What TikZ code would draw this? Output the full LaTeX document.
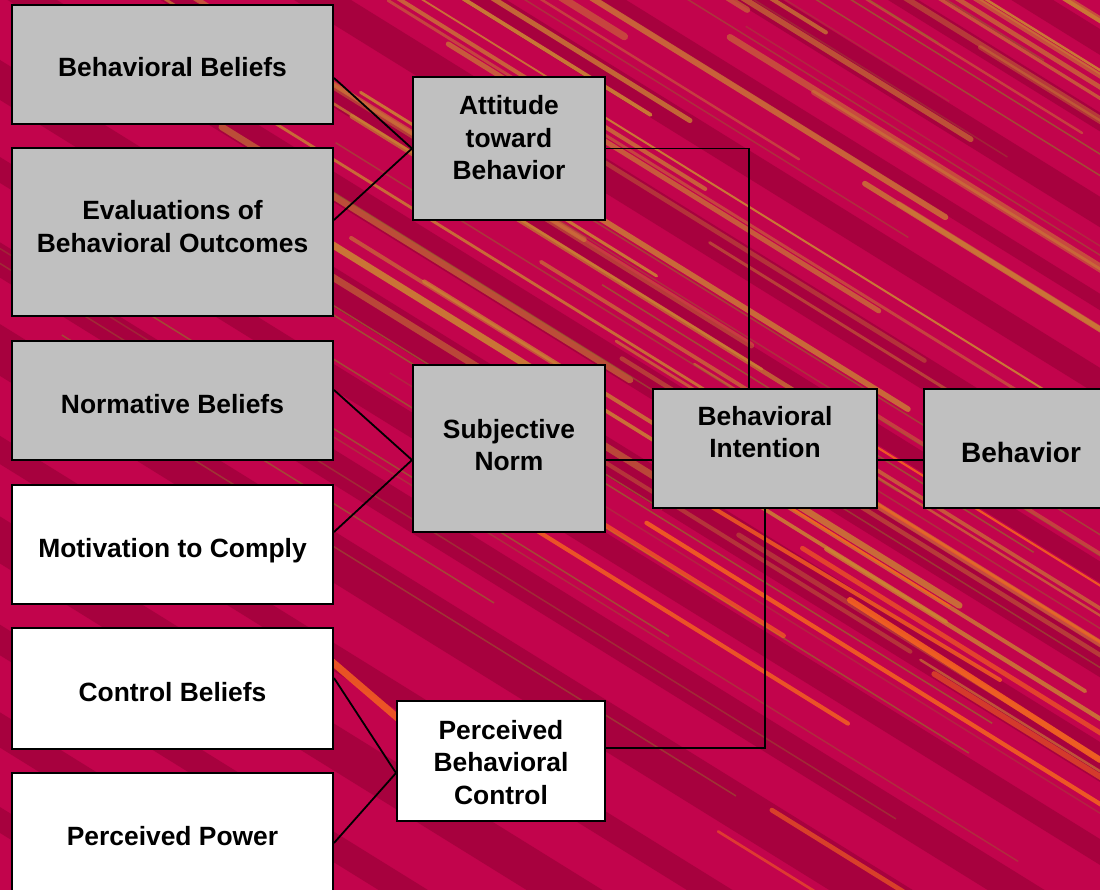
\documentclass[tikz,border=0pt]{standalone}
\usepackage{fontspec}
\setmainfont{Liberation Sans}
\definecolor{bgred}{RGB}{194,4,76}
\definecolor{darkband}{RGB}{158,0,58}
\definecolor{goldstreak}{RGB}{204,132,52}
\definecolor{olivestreak}{RGB}{150,104,44}
\definecolor{orangestreak}{RGB}{244,98,32}
\definecolor{boxgray}{RGB}{192,192,192}
\tikzset{
  box/.style={draw=black, line width=2pt, rectangle, inner sep=0pt},
  graybox/.style={box, fill=boxgray},
  whitebox/.style={box, fill=white},
  txt/.style={align=center, inner sep=0pt, font=\bfseries\fontsize{26.4}{32.5}\selectfont},
  conn/.style={draw=black, line width=1.8pt},
}
\begin{document}
\begin{tikzpicture}[x=1pt, y=-1pt]
\useasboundingbox (0,0) rectangle (1100,890);
\clip (0,0) rectangle (1100,890);
\fill[bgred] (0,0) rectangle (1100,890);
% dark bands
\foreach \yo/\bw in {-640/22,-560/16,-470/26,-380/14,-300/24,-200/30,-110/18,-20/26,80/34,170/22,260/30,350/44,450/24,540/40,640/26,730/30,820/22}{
  \draw[darkband, line width=\bw pt, opacity=0.75] (-50,{\yo-31}) -- (1150,{\yo+713});
}
\pgfmathsetseed{2024}
% gold streaks (mostly upper right)
\foreach \i in {1,...,60}{
  \pgfmathsetmacro{\syo}{-700+800*rnd}
  \pgfmathsetmacro{\sxa}{100+900*rnd}
  \pgfmathsetmacro{\sxb}{\sxa+200+600*rnd}
  \pgfmathsetmacro{\sw}{1.5+6*rnd}
  \pgfmathsetmacro{\sop}{0.35+0.55*rnd}
  \draw[goldstreak, line width=\sw pt, opacity=\sop, line cap=round] (\sxa,{\syo+0.62*\sxa}) -- (\sxb,{\syo+0.62*\sxb});
}
% thin olive lines
\foreach \i in {1,...,35}{
  \pgfmathsetmacro{\syo}{-700+1500*rnd}
  \pgfmathsetmacro{\sxa}{-50+800*rnd}
  \pgfmathsetmacro{\sxb}{\sxa+300+700*rnd}
  \pgfmathsetmacro{\sop}{0.3+0.5*rnd}
  \draw[olivestreak, line width=1.5pt, opacity=\sop] (\sxa,{\syo+0.62*\sxa}) -- (\sxb,{\syo+0.62*\sxb});
}
% orange streaks (lower right)
\foreach \i in {1,...,10}{
  \pgfmathsetmacro{\syo}{-100+500*rnd}
  \pgfmathsetmacro{\sxa}{450+500*rnd}
  \pgfmathsetmacro{\sxb}{\sxa+150+400*rnd}
  \pgfmathsetmacro{\sw}{2+4*rnd}
  \pgfmathsetmacro{\sop}{0.5+0.4*rnd}
  \draw[orangestreak, line width=\sw pt, opacity=\sop, line cap=round] (\sxa,{\syo+0.62*\sxa}) -- (\sxb,{\syo+0.62*\sxb});
}
\draw[orangestreak, line width=7pt, opacity=0.85, line cap=round] (330,660) -- (470,780);
\draw[orangestreak, line width=6pt, opacity=0.9, line cap=round] (850,600) -- (1100,760);
\draw[orangestreak, line width=4pt, opacity=0.8, line cap=round] (700,500) -- (1000,680);

% boxes
\node[graybox, minimum width=321pt, minimum height=119pt] (bb) at (172.5,64.5) {};
\node[graybox, minimum width=321pt, minimum height=168pt] (ev) at (172.5,232) {};
\node[graybox, minimum width=321pt, minimum height=119pt] (nb) at (172.5,400.5) {};
\node[whitebox, minimum width=321pt, minimum height=119pt] (mc) at (172.5,544.5) {};
\node[whitebox, minimum width=321pt, minimum height=121pt] (cb) at (172.5,688.5) {};
\node[whitebox, minimum width=321pt, minimum height=137pt] (pp) at (172.5,841.5) {};
\node[graybox, minimum width=192pt, minimum height=143pt] (at) at (509,148.5) {};
\node[graybox, minimum width=192pt, minimum height=167pt] (sn) at (509,448.5) {};
\node[whitebox, minimum width=208pt, minimum height=120pt] (pbc) at (501,761) {};
\node[graybox, minimum width=224pt, minimum height=119pt] (bi) at (765,448.5) {};
\node[graybox, minimum width=194pt, minimum height=119pt] (bh) at (1021,448.5) {};

% texts
\node[txt] (bbT) at (172.5,67) {Behavioral Beliefs};
\node[txt] (evT) at (172.5,226.5) {Evaluations of\\Behavioral Outcomes};
\node[txt] (nbT) at (172.5,404) {Normative Beliefs};
\node[txt] (mcT) at (172.5,551) {Motivation to Comply};
\node[txt] (cbT) at (172.5,692) {Control Beliefs};
\node[txt] (ppT) at (172.5,836) {Perceived Power};
\node[txt] (atT) at (509,138) {Attitude\\toward\\Behavior};
\node[txt] (snT) at (509,445) {Subjective\\Norm};
\node[txt] (pbcT) at (501,762.5) {Perceived\\Behavioral\\Control};
\node[txt] (biT) at (765,432) {Behavioral\\Intention};
\node[txt, font=\bfseries\fontsize{28}{32.5}\selectfont] (bhT) at (1021,452) {Behavior};

% connectors
\draw[conn] ([yshift=-13.5pt]bb.east) -- (at.west);
\draw[conn] ([yshift=12pt]ev.east) -- (at.west);
\draw[conn] ([yshift=10.5pt]nb.east) -- ([yshift=-11.5pt]sn.west);
\draw[conn] ([yshift=12.5pt]mc.east) -- ([yshift=-11.5pt]sn.west);
\draw[conn] ([yshift=10.5pt]cb.east) -- ([yshift=-12pt]pbc.west);
\draw[conn] ([yshift=-1.5pt]pp.east) -- ([yshift=-12pt]pbc.west);
\draw[conn] (at.east) -| ([xshift=-16pt]bi.north);
\draw[conn] ([yshift=-11.5pt]sn.east) -- ([yshift=-11.5pt]bi.west);
\draw[conn] ([yshift=13pt]pbc.east) -| (bi.south);
\draw[conn] ([yshift=-11.5pt]bi.east) -- ([yshift=-11.5pt]bh.west);
\end{tikzpicture}
\end{document}
